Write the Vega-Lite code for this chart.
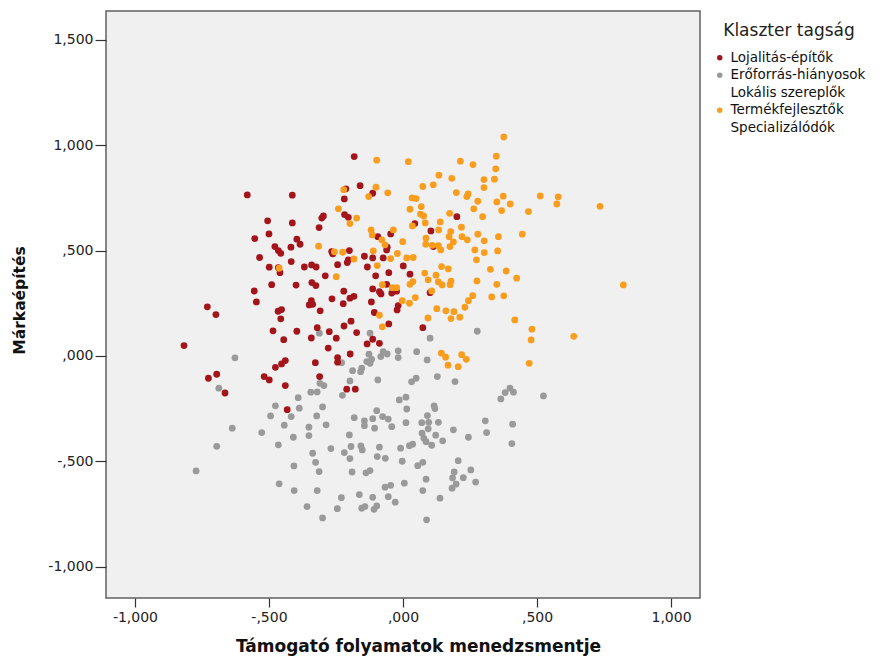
{
  "$schema": "https://vega.github.io/schema/vega-lite/v6.json",
  "width": 594,
  "height": 587,
  "autosize": {"type": "none"},
  "padding": {"left": 106, "top": 11, "right": 183, "bottom": 62},
  "background": "#ffffff",
  "config": {
    "font": "DejaVu Sans",
    "view": {"fill": "#f0f0f0", "stroke": "#606060", "strokeWidth": 1.5}
  },
  "data": {
    "values": [
      {"x": -0.312, "y": 0.108, "k": "Erőforrás-hiányosok"},
      {"x": -0.123, "y": 0.108, "k": "Erőforrás-hiányosok"},
      {"x": 0.101, "y": 0.084, "k": "Erőforrás-hiányosok"},
      {"x": 0.277, "y": 0.117, "k": "Erőforrás-hiányosok"},
      {"x": -0.627, "y": -0.009, "k": "Erőforrás-hiányosok"},
      {"x": -0.687, "y": -0.153, "k": "Erőforrás-hiányosok"},
      {"x": -0.127, "y": 0.008, "k": "Erőforrás-hiányosok"},
      {"x": -0.117, "y": -0.016, "k": "Erőforrás-hiányosok"},
      {"x": -0.123, "y": -0.035, "k": "Erőforrás-hiányosok"},
      {"x": -0.135, "y": -0.027, "k": "Erőforrás-hiányosok"},
      {"x": -0.154, "y": -0.058, "k": "Erőforrás-hiányosok"},
      {"x": -0.158, "y": -0.075, "k": "Erőforrás-hiányosok"},
      {"x": -0.229, "y": -0.032, "k": "Erőforrás-hiányosok"},
      {"x": -0.188, "y": -0.070, "k": "Erőforrás-hiányosok"},
      {"x": -0.074, "y": 0.020, "k": "Erőforrás-hiányosok"},
      {"x": -0.059, "y": 0.009, "k": "Erőforrás-hiányosok"},
      {"x": -0.083, "y": -0.003, "k": "Erőforrás-hiányosok"},
      {"x": -0.018, "y": 0.024, "k": "Erőforrás-hiányosok"},
      {"x": -0.018, "y": -0.008, "k": "Erőforrás-hiányosok"},
      {"x": 0.051, "y": 0.020, "k": "Erőforrás-hiányosok"},
      {"x": 0.090, "y": -0.019, "k": "Erőforrás-hiányosok"},
      {"x": -0.198, "y": -0.119, "k": "Erőforrás-hiányosok"},
      {"x": -0.094, "y": -0.114, "k": "Erőforrás-hiányosok"},
      {"x": -0.310, "y": -0.130, "k": "Erőforrás-hiányosok"},
      {"x": -0.295, "y": -0.141, "k": "Erőforrás-hiányosok"},
      {"x": -0.344, "y": -0.172, "k": "Erőforrás-hiányosok"},
      {"x": -0.320, "y": -0.171, "k": "Erőforrás-hiányosok"},
      {"x": -0.226, "y": -0.187, "k": "Erőforrás-hiányosok"},
      {"x": 0.032, "y": -0.123, "k": "Erőforrás-hiányosok"},
      {"x": 0.049, "y": -0.106, "k": "Erőforrás-hiányosok"},
      {"x": 0.128, "y": -0.098, "k": "Erőforrás-hiányosok"},
      {"x": 0.194, "y": -0.122, "k": "Erőforrás-hiányosok"},
      {"x": 0.365, "y": -0.204, "k": "Erőforrás-hiányosok"},
      {"x": 0.381, "y": -0.174, "k": "Erőforrás-hiányosok"},
      {"x": 0.399, "y": -0.153, "k": "Erőforrás-hiányosok"},
      {"x": 0.412, "y": -0.172, "k": "Erőforrás-hiányosok"},
      {"x": 0.524, "y": -0.190, "k": "Erőforrás-hiányosok"},
      {"x": -0.391, "y": -0.198, "k": "Erőforrás-hiányosok"},
      {"x": -0.476, "y": -0.237, "k": "Erőforrás-hiányosok"},
      {"x": -0.387, "y": -0.248, "k": "Erőforrás-hiányosok"},
      {"x": -0.300, "y": -0.242, "k": "Erőforrás-hiányosok"},
      {"x": -0.494, "y": -0.285, "k": "Erőforrás-hiányosok"},
      {"x": -0.417, "y": -0.288, "k": "Erőforrás-hiányosok"},
      {"x": -0.322, "y": -0.285, "k": "Erőforrás-hiányosok"},
      {"x": -0.287, "y": -0.327, "k": "Erőforrás-hiányosok"},
      {"x": -0.443, "y": -0.329, "k": "Erőforrás-hiányosok"},
      {"x": -0.637, "y": -0.343, "k": "Erőforrás-hiányosok"},
      {"x": -0.527, "y": -0.364, "k": "Erőforrás-hiányosok"},
      {"x": -0.695, "y": -0.429, "k": "Erőforrás-hiányosok"},
      {"x": -0.772, "y": -0.546, "k": "Erőforrás-hiányosok"},
      {"x": -0.465, "y": -0.422, "k": "Erőforrás-hiányosok"},
      {"x": -0.409, "y": -0.386, "k": "Erőforrás-hiányosok"},
      {"x": -0.351, "y": -0.338, "k": "Erőforrás-hiányosok"},
      {"x": -0.351, "y": -0.378, "k": "Erőforrás-hiányosok"},
      {"x": -0.014, "y": -0.209, "k": "Erőforrás-hiányosok"},
      {"x": 0.011, "y": -0.196, "k": "Erőforrás-hiányosok"},
      {"x": 0.014, "y": -0.252, "k": "Erőforrás-hiányosok"},
      {"x": -0.098, "y": -0.260, "k": "Erőforrás-hiányosok"},
      {"x": -0.076, "y": -0.288, "k": "Erőforrás-hiányosok"},
      {"x": -0.055, "y": -0.300, "k": "Erőforrás-hiányosok"},
      {"x": -0.182, "y": -0.293, "k": "Erőforrás-hiányosok"},
      {"x": -0.144, "y": -0.308, "k": "Erőforrás-hiányosok"},
      {"x": -0.144, "y": -0.331, "k": "Erőforrás-hiányosok"},
      {"x": -0.113, "y": -0.298, "k": "Erőforrás-hiányosok"},
      {"x": -0.106, "y": -0.343, "k": "Erőforrás-hiányosok"},
      {"x": -0.042, "y": -0.336, "k": "Erőforrás-hiányosok"},
      {"x": 0.011, "y": -0.317, "k": "Erőforrás-hiányosok"},
      {"x": 0.070, "y": -0.317, "k": "Erőforrás-hiányosok"},
      {"x": 0.096, "y": -0.315, "k": "Erőforrás-hiányosok"},
      {"x": 0.132, "y": -0.315, "k": "Erőforrás-hiányosok"},
      {"x": 0.091, "y": -0.283, "k": "Erőforrás-hiányosok"},
      {"x": 0.116, "y": -0.237, "k": "Erőforrás-hiányosok"},
      {"x": 0.119, "y": -0.250, "k": "Erőforrás-hiányosok"},
      {"x": 0.094, "y": -0.346, "k": "Erőforrás-hiányosok"},
      {"x": 0.071, "y": -0.367, "k": "Erőforrás-hiányosok"},
      {"x": 0.078, "y": -0.391, "k": "Erőforrás-hiányosok"},
      {"x": 0.086, "y": -0.407, "k": "Erőforrás-hiányosok"},
      {"x": 0.122, "y": -0.376, "k": "Erőforrás-hiányosok"},
      {"x": 0.107, "y": -0.424, "k": "Erőforrás-hiányosok"},
      {"x": 0.148, "y": -0.403, "k": "Erőforrás-hiányosok"},
      {"x": 0.188, "y": -0.351, "k": "Erőforrás-hiányosok"},
      {"x": 0.244, "y": -0.386, "k": "Erőforrás-hiányosok"},
      {"x": 0.307, "y": -0.308, "k": "Erőforrás-hiányosok"},
      {"x": 0.312, "y": -0.364, "k": "Erőforrás-hiányosok"},
      {"x": 0.409, "y": -0.324, "k": "Erőforrás-hiányosok"},
      {"x": 0.406, "y": -0.416, "k": "Erőforrás-hiányosok"},
      {"x": -0.200, "y": -0.375, "k": "Erőforrás-hiányosok"},
      {"x": -0.269, "y": -0.440, "k": "Erőforrás-hiányosok"},
      {"x": -0.219, "y": -0.459, "k": "Erőforrás-hiányosok"},
      {"x": -0.198, "y": -0.487, "k": "Erőforrás-hiányosok"},
      {"x": -0.194, "y": -0.430, "k": "Erőforrás-hiányosok"},
      {"x": -0.157, "y": -0.427, "k": "Erőforrás-hiányosok"},
      {"x": -0.152, "y": -0.446, "k": "Erőforrás-hiányosok"},
      {"x": -0.088, "y": -0.433, "k": "Erőforrás-hiányosok"},
      {"x": -0.337, "y": -0.462, "k": "Erőforrás-hiányosok"},
      {"x": -0.326, "y": -0.505, "k": "Erőforrás-hiányosok"},
      {"x": -0.313, "y": -0.549, "k": "Erőforrás-hiányosok"},
      {"x": -0.407, "y": -0.522, "k": "Erőforrás-hiányosok"},
      {"x": -0.096, "y": -0.478, "k": "Erőforrás-hiányosok"},
      {"x": -0.066, "y": -0.486, "k": "Erőforrás-hiányosok"},
      {"x": -0.003, "y": -0.500, "k": "Erőforrás-hiányosok"},
      {"x": -0.009, "y": -0.438, "k": "Erőforrás-hiányosok"},
      {"x": 0.024, "y": -0.426, "k": "Erőforrás-hiányosok"},
      {"x": 0.036, "y": -0.419, "k": "Erőforrás-hiányosok"},
      {"x": 0.055, "y": -0.521, "k": "Erőforrás-hiányosok"},
      {"x": 0.074, "y": -0.505, "k": "Erőforrás-hiányosok"},
      {"x": -0.190, "y": -0.551, "k": "Erőforrás-hiányosok"},
      {"x": -0.138, "y": -0.555, "k": "Erőforrás-hiányosok"},
      {"x": -0.123, "y": -0.544, "k": "Erőforrás-hiányosok"},
      {"x": 0.206, "y": -0.497, "k": "Erőforrás-hiányosok"},
      {"x": 0.191, "y": -0.551, "k": "Erőforrás-hiányosok"},
      {"x": 0.185, "y": -0.579, "k": "Erőforrás-hiányosok"},
      {"x": 0.225, "y": -0.578, "k": "Erőforrás-hiányosok"},
      {"x": 0.253, "y": -0.541, "k": "Erőforrás-hiányosok"},
      {"x": 0.271, "y": -0.599, "k": "Erőforrás-hiányosok"},
      {"x": 0.198, "y": -0.609, "k": "Erőforrás-hiányosok"},
      {"x": 0.183, "y": -0.628, "k": "Erőforrás-hiányosok"},
      {"x": 0.086, "y": -0.585, "k": "Erőforrás-hiányosok"},
      {"x": 0.005, "y": -0.604, "k": "Erőforrás-hiányosok"},
      {"x": -0.067, "y": -0.623, "k": "Erőforrás-hiányosok"},
      {"x": -0.046, "y": -0.614, "k": "Erőforrás-hiányosok"},
      {"x": 0.074, "y": -0.639, "k": "Erőforrás-hiányosok"},
      {"x": 0.138, "y": -0.675, "k": "Erőforrás-hiányosok"},
      {"x": -0.462, "y": -0.607, "k": "Erőforrás-hiányosok"},
      {"x": -0.406, "y": -0.639, "k": "Erőforrás-hiányosok"},
      {"x": -0.320, "y": -0.639, "k": "Erőforrás-hiányosok"},
      {"x": -0.230, "y": -0.673, "k": "Erőforrás-hiányosok"},
      {"x": -0.163, "y": -0.658, "k": "Erőforrás-hiányosok"},
      {"x": -0.113, "y": -0.671, "k": "Erőforrás-hiányosok"},
      {"x": -0.055, "y": -0.668, "k": "Erőforrás-hiányosok"},
      {"x": -0.029, "y": -0.694, "k": "Erőforrás-hiányosok"},
      {"x": -0.358, "y": -0.715, "k": "Erőforrás-hiányosok"},
      {"x": -0.245, "y": -0.725, "k": "Erőforrás-hiányosok"},
      {"x": -0.300, "y": -0.769, "k": "Erőforrás-hiányosok"},
      {"x": -0.154, "y": -0.723, "k": "Erőforrás-hiányosok"},
      {"x": -0.142, "y": -0.715, "k": "Erőforrás-hiányosok"},
      {"x": -0.108, "y": -0.728, "k": "Erőforrás-hiányosok"},
      {"x": -0.098, "y": -0.712, "k": "Erőforrás-hiányosok"},
      {"x": 0.088, "y": -0.778, "k": "Erőforrás-hiányosok"},
      {"x": -0.182, "y": 0.946, "k": "Lojalitás-építők"},
      {"x": -0.581, "y": 0.764, "k": "Lojalitás-építők"},
      {"x": -0.413, "y": 0.763, "k": "Lojalitás-építők"},
      {"x": -0.160, "y": 0.808, "k": "Lojalitás-építők"},
      {"x": -0.113, "y": 0.772, "k": "Lojalitás-építők"},
      {"x": -0.219, "y": 0.745, "k": "Lojalitás-építők"},
      {"x": -0.213, "y": 0.793, "k": "Lojalitás-építők"},
      {"x": -0.297, "y": 0.664, "k": "Lojalitás-építők"},
      {"x": -0.303, "y": 0.654, "k": "Lojalitás-építők"},
      {"x": -0.218, "y": 0.671, "k": "Lojalitás-építők"},
      {"x": -0.204, "y": 0.658, "k": "Lojalitás-építők"},
      {"x": -0.313, "y": 0.609, "k": "Lojalitás-építők"},
      {"x": -0.505, "y": 0.641, "k": "Lojalitás-építők"},
      {"x": -0.413, "y": 0.631, "k": "Lojalitás-építők"},
      {"x": -0.500, "y": 0.579, "k": "Lojalitás-építők"},
      {"x": -0.553, "y": 0.557, "k": "Lojalitás-építők"},
      {"x": -0.396, "y": 0.554, "k": "Lojalitás-építők"},
      {"x": -0.384, "y": 0.530, "k": "Lojalitás-építők"},
      {"x": -0.478, "y": 0.519, "k": "Lojalitás-építők"},
      {"x": -0.465, "y": 0.500, "k": "Lojalitás-építők"},
      {"x": -0.456, "y": 0.487, "k": "Lojalitás-építők"},
      {"x": -0.418, "y": 0.516, "k": "Lojalitás-építők"},
      {"x": -0.535, "y": 0.467, "k": "Lojalitás-építők"},
      {"x": -0.417, "y": 0.448, "k": "Lojalitás-építők"},
      {"x": -0.499, "y": 0.421, "k": "Lojalitás-építők"},
      {"x": -0.465, "y": 0.419, "k": "Lojalitás-építők"},
      {"x": -0.459, "y": 0.395, "k": "Lojalitás-építők"},
      {"x": -0.368, "y": 0.422, "k": "Lojalitás-építők"},
      {"x": -0.341, "y": 0.432, "k": "Lojalitás-építők"},
      {"x": -0.324, "y": 0.422, "k": "Lojalitás-építők"},
      {"x": -0.262, "y": 0.484, "k": "Lojalitás-építők"},
      {"x": -0.266, "y": 0.495, "k": "Lojalitás-építők"},
      {"x": -0.200, "y": 0.500, "k": "Lojalitás-építők"},
      {"x": -0.244, "y": 0.433, "k": "Lojalitás-építők"},
      {"x": -0.208, "y": 0.443, "k": "Lojalitás-építők"},
      {"x": -0.204, "y": 0.456, "k": "Lojalitás-építők"},
      {"x": -0.144, "y": 0.473, "k": "Lojalitás-építők"},
      {"x": -0.133, "y": 0.422, "k": "Lojalitás-építők"},
      {"x": -0.113, "y": 0.465, "k": "Lojalitás-építők"},
      {"x": -0.074, "y": 0.465, "k": "Lojalitás-építők"},
      {"x": -0.094, "y": 0.566, "k": "Lojalitás-építők"},
      {"x": -0.059, "y": 0.516, "k": "Lojalitás-építők"},
      {"x": -0.061, "y": 0.503, "k": "Lojalitás-építők"},
      {"x": -0.046, "y": 0.579, "k": "Lojalitás-építők"},
      {"x": 0.001, "y": 0.427, "k": "Lojalitás-építők"},
      {"x": -0.053, "y": 0.395, "k": "Lojalitás-építők"},
      {"x": -0.102, "y": 0.380, "k": "Lojalitás-építők"},
      {"x": -0.290, "y": 0.380, "k": "Lojalitás-építők"},
      {"x": -0.490, "y": 0.338, "k": "Lojalitás-építők"},
      {"x": -0.399, "y": 0.336, "k": "Lojalitás-építők"},
      {"x": -0.555, "y": 0.308, "k": "Lojalitás-építők"},
      {"x": -0.340, "y": 0.348, "k": "Lojalitás-építők"},
      {"x": -0.325, "y": 0.334, "k": "Lojalitás-építők"},
      {"x": -0.221, "y": 0.307, "k": "Lojalitás-építők"},
      {"x": -0.113, "y": 0.318, "k": "Lojalitás-építők"},
      {"x": -0.088, "y": 0.305, "k": "Lojalitás-építők"},
      {"x": -0.082, "y": 0.294, "k": "Lojalitás-építők"},
      {"x": -0.061, "y": 0.340, "k": "Lojalitás-építők"},
      {"x": -0.042, "y": 0.298, "k": "Lojalitás-építők"},
      {"x": -0.024, "y": 0.307, "k": "Lojalitás-építők"},
      {"x": -0.547, "y": 0.256, "k": "Lojalitás-építők"},
      {"x": -0.342, "y": 0.262, "k": "Lojalitás-építők"},
      {"x": -0.337, "y": 0.245, "k": "Lojalitás-építők"},
      {"x": -0.350, "y": 0.242, "k": "Lojalitás-építők"},
      {"x": -0.265, "y": 0.271, "k": "Lojalitás-építők"},
      {"x": -0.223, "y": 0.248, "k": "Lojalitás-építők"},
      {"x": -0.198, "y": 0.274, "k": "Lojalitás-építők"},
      {"x": -0.183, "y": 0.283, "k": "Lojalitás-építők"},
      {"x": -0.118, "y": 0.256, "k": "Lojalitás-építők"},
      {"x": -0.018, "y": 0.239, "k": "Lojalitás-építők"},
      {"x": -0.022, "y": 0.218, "k": "Lojalitás-építők"},
      {"x": -0.309, "y": 0.214, "k": "Lojalitás-építők"},
      {"x": -0.466, "y": 0.212, "k": "Lojalitás-építők"},
      {"x": -0.453, "y": 0.220, "k": "Lojalitás-építők"},
      {"x": -0.456, "y": 0.176, "k": "Lojalitás-építők"},
      {"x": -0.730, "y": 0.233, "k": "Lojalitás-építők"},
      {"x": -0.698, "y": 0.196, "k": "Lojalitás-építők"},
      {"x": -0.107, "y": 0.206, "k": "Lojalitás-építők"},
      {"x": -0.194, "y": 0.165, "k": "Lojalitás-építők"},
      {"x": -0.220, "y": 0.142, "k": "Lojalitás-építők"},
      {"x": -0.053, "y": 0.152, "k": "Lojalitás-építők"},
      {"x": -0.485, "y": 0.119, "k": "Lojalitás-építők"},
      {"x": -0.396, "y": 0.117, "k": "Lojalitás-építők"},
      {"x": -0.320, "y": 0.134, "k": "Lojalitás-építők"},
      {"x": -0.275, "y": 0.115, "k": "Lojalitás-építők"},
      {"x": -0.173, "y": 0.111, "k": "Lojalitás-építők"},
      {"x": -0.445, "y": 0.077, "k": "Lojalitás-építők"},
      {"x": -0.342, "y": 0.085, "k": "Lojalitás-építők"},
      {"x": -0.249, "y": 0.084, "k": "Lojalitás-építők"},
      {"x": -0.134, "y": 0.057, "k": "Lojalitás-építők"},
      {"x": -0.113, "y": 0.079, "k": "Lojalitás-építők"},
      {"x": -0.088, "y": 0.060, "k": "Lojalitás-építők"},
      {"x": -0.817, "y": 0.049, "k": "Lojalitás-építők"},
      {"x": -0.279, "y": 0.037, "k": "Lojalitás-építők"},
      {"x": -0.197, "y": 0.009, "k": "Lojalitás-építők"},
      {"x": -0.439, "y": -0.022, "k": "Lojalitás-építők"},
      {"x": -0.453, "y": -0.038, "k": "Lojalitás-építők"},
      {"x": -0.476, "y": -0.054, "k": "Lojalitás-építők"},
      {"x": -0.327, "y": -0.032, "k": "Lojalitás-építők"},
      {"x": -0.244, "y": -0.008, "k": "Lojalitás-építők"},
      {"x": -0.244, "y": -0.030, "k": "Lojalitás-építők"},
      {"x": 0.026, "y": 0.388, "k": "Lojalitás-építők"},
      {"x": 0.201, "y": 0.661, "k": "Lojalitás-építők"},
      {"x": 0.104, "y": 0.593, "k": "Lojalitás-építők"},
      {"x": 0.101, "y": 0.300, "k": "Lojalitás-építők"},
      {"x": 0.074, "y": 0.134, "k": "Lojalitás-építők"},
      {"x": 0.113, "y": 0.519, "k": "Lojalitás-építők"},
      {"x": 0.044, "y": 0.628, "k": "Lojalitás-építők"},
      {"x": -0.726, "y": -0.106, "k": "Lojalitás-építők"},
      {"x": -0.695, "y": -0.087, "k": "Lojalitás-építők"},
      {"x": -0.664, "y": -0.176, "k": "Lojalitás-építők"},
      {"x": -0.518, "y": -0.098, "k": "Lojalitás-építők"},
      {"x": -0.499, "y": -0.114, "k": "Lojalitás-építők"},
      {"x": -0.439, "y": -0.141, "k": "Lojalitás-építők"},
      {"x": -0.311, "y": -0.098, "k": "Lojalitás-építők"},
      {"x": -0.210, "y": -0.158, "k": "Lojalitás-építők"},
      {"x": -0.178, "y": -0.158, "k": "Lojalitás-építők"},
      {"x": -0.432, "y": -0.255, "k": "Lojalitás-építők"},
      {"x": -0.098, "y": 0.929, "k": "Termékfejlesztők"},
      {"x": 0.020, "y": 0.922, "k": "Termékfejlesztők"},
      {"x": -0.221, "y": 0.789, "k": "Termékfejlesztők"},
      {"x": -0.101, "y": 0.801, "k": "Termékfejlesztők"},
      {"x": -0.128, "y": 0.756, "k": "Termékfejlesztők"},
      {"x": -0.057, "y": 0.774, "k": "Termékfejlesztők"},
      {"x": -0.241, "y": 0.698, "k": "Termékfejlesztők"},
      {"x": -0.173, "y": 0.654, "k": "Termékfejlesztők"},
      {"x": -0.198, "y": 0.628, "k": "Termékfejlesztők"},
      {"x": -0.119, "y": 0.598, "k": "Termékfejlesztők"},
      {"x": -0.115, "y": 0.574, "k": "Termékfejlesztők"},
      {"x": -0.036, "y": 0.598, "k": "Termékfejlesztők"},
      {"x": -0.079, "y": 0.551, "k": "Termékfejlesztők"},
      {"x": -0.067, "y": 0.527, "k": "Termékfejlesztők"},
      {"x": -0.001, "y": 0.542, "k": "Termékfejlesztők"},
      {"x": -0.315, "y": 0.521, "k": "Termékfejlesztők"},
      {"x": -0.256, "y": 0.494, "k": "Termékfejlesztők"},
      {"x": -0.225, "y": 0.492, "k": "Termékfejlesztők"},
      {"x": -0.183, "y": 0.460, "k": "Termékfejlesztők"},
      {"x": -0.021, "y": 0.486, "k": "Termékfejlesztők"},
      {"x": -0.046, "y": 0.462, "k": "Termékfejlesztők"},
      {"x": 0.014, "y": 0.465, "k": "Termékfejlesztők"},
      {"x": -0.096, "y": 0.429, "k": "Termékfejlesztők"},
      {"x": -0.462, "y": 0.416, "k": "Termékfejlesztők"},
      {"x": -0.249, "y": 0.376, "k": "Termékfejlesztők"},
      {"x": -0.077, "y": 0.338, "k": "Termékfejlesztők"},
      {"x": -0.040, "y": 0.324, "k": "Termékfejlesztők"},
      {"x": -0.024, "y": 0.324, "k": "Termékfejlesztők"},
      {"x": 0.026, "y": 0.340, "k": "Termékfejlesztők"},
      {"x": -0.003, "y": 0.262, "k": "Termékfejlesztők"},
      {"x": 0.024, "y": 0.250, "k": "Termékfejlesztők"},
      {"x": -0.088, "y": 0.193, "k": "Termékfejlesztők"},
      {"x": -0.077, "y": 0.138, "k": "Termékfejlesztők"},
      {"x": -0.111, "y": 0.498, "k": "Termékfejlesztők"},
      {"x": 0.376, "y": 1.039, "k": "Termékfejlesztők"},
      {"x": 0.348, "y": 0.948, "k": "Termékfejlesztők"},
      {"x": 0.346, "y": 0.888, "k": "Termékfejlesztők"},
      {"x": 0.214, "y": 0.924, "k": "Termékfejlesztők"},
      {"x": 0.261, "y": 0.908, "k": "Termékfejlesztők"},
      {"x": 0.134, "y": 0.858, "k": "Termékfejlesztők"},
      {"x": 0.182, "y": 0.843, "k": "Termékfejlesztők"},
      {"x": 0.302, "y": 0.837, "k": "Termékfejlesztők"},
      {"x": 0.341, "y": 0.839, "k": "Termékfejlesztők"},
      {"x": 0.302, "y": 0.799, "k": "Termékfejlesztők"},
      {"x": 0.074, "y": 0.804, "k": "Termékfejlesztők"},
      {"x": 0.113, "y": 0.812, "k": "Termékfejlesztők"},
      {"x": 0.199, "y": 0.775, "k": "Termékfejlesztők"},
      {"x": 0.238, "y": 0.756, "k": "Termékfejlesztők"},
      {"x": 0.243, "y": 0.769, "k": "Termékfejlesztők"},
      {"x": 0.512, "y": 0.759, "k": "Termékfejlesztők"},
      {"x": 0.579, "y": 0.755, "k": "Termékfejlesztők"},
      {"x": 0.574, "y": 0.721, "k": "Termékfejlesztők"},
      {"x": 0.034, "y": 0.750, "k": "Termékfejlesztők"},
      {"x": 0.049, "y": 0.747, "k": "Termékfejlesztők"},
      {"x": 0.279, "y": 0.734, "k": "Termékfejlesztők"},
      {"x": 0.350, "y": 0.731, "k": "Termékfejlesztők"},
      {"x": 0.374, "y": 0.758, "k": "Termékfejlesztők"},
      {"x": 0.400, "y": 0.721, "k": "Termékfejlesztők"},
      {"x": 0.735, "y": 0.710, "k": "Termékfejlesztők"},
      {"x": 0.068, "y": 0.709, "k": "Termékfejlesztők"},
      {"x": 0.026, "y": 0.696, "k": "Termékfejlesztők"},
      {"x": 0.264, "y": 0.698, "k": "Termékfejlesztők"},
      {"x": 0.368, "y": 0.690, "k": "Termékfejlesztők"},
      {"x": 0.468, "y": 0.685, "k": "Termékfejlesztők"},
      {"x": 0.174, "y": 0.677, "k": "Termékfejlesztők"},
      {"x": 0.065, "y": 0.673, "k": "Termékfejlesztők"},
      {"x": 0.077, "y": 0.664, "k": "Termékfejlesztők"},
      {"x": 0.297, "y": 0.661, "k": "Termékfejlesztők"},
      {"x": 0.083, "y": 0.631, "k": "Termékfejlesztők"},
      {"x": 0.139, "y": 0.636, "k": "Termékfejlesztők"},
      {"x": 0.035, "y": 0.617, "k": "Termékfejlesztők"},
      {"x": 0.133, "y": 0.598, "k": "Termékfejlesztők"},
      {"x": 0.218, "y": 0.611, "k": "Termékfejlesztők"},
      {"x": 0.178, "y": 0.590, "k": "Termékfejlesztők"},
      {"x": 0.172, "y": 0.566, "k": "Termékfejlesztők"},
      {"x": 0.220, "y": 0.566, "k": "Termékfejlesztők"},
      {"x": 0.240, "y": 0.551, "k": "Termékfejlesztők"},
      {"x": 0.279, "y": 0.578, "k": "Termékfejlesztők"},
      {"x": 0.356, "y": 0.566, "k": "Termékfejlesztők"},
      {"x": 0.445, "y": 0.578, "k": "Termékfejlesztők"},
      {"x": 0.086, "y": 0.559, "k": "Termékfejlesztők"},
      {"x": 0.085, "y": 0.530, "k": "Termékfejlesztők"},
      {"x": 0.109, "y": 0.525, "k": "Termékfejlesztők"},
      {"x": 0.132, "y": 0.523, "k": "Termékfejlesztők"},
      {"x": 0.141, "y": 0.503, "k": "Termékfejlesztők"},
      {"x": 0.175, "y": 0.519, "k": "Termékfejlesztők"},
      {"x": 0.188, "y": 0.541, "k": "Termékfejlesztők"},
      {"x": 0.303, "y": 0.546, "k": "Termékfejlesztők"},
      {"x": 0.268, "y": 0.503, "k": "Termékfejlesztők"},
      {"x": 0.303, "y": 0.490, "k": "Termékfejlesztők"},
      {"x": 0.353, "y": 0.498, "k": "Termékfejlesztők"},
      {"x": 0.038, "y": 0.467, "k": "Termékfejlesztők"},
      {"x": 0.274, "y": 0.456, "k": "Termékfejlesztők"},
      {"x": 0.144, "y": 0.424, "k": "Termékfejlesztők"},
      {"x": 0.169, "y": 0.413, "k": "Termékfejlesztők"},
      {"x": 0.326, "y": 0.411, "k": "Termékfejlesztők"},
      {"x": 0.385, "y": 0.403, "k": "Termékfejlesztők"},
      {"x": 0.424, "y": 0.369, "k": "Termékfejlesztők"},
      {"x": 0.081, "y": 0.393, "k": "Termékfejlesztők"},
      {"x": 0.123, "y": 0.383, "k": "Termékfejlesztők"},
      {"x": 0.094, "y": 0.361, "k": "Termékfejlesztők"},
      {"x": 0.037, "y": 0.353, "k": "Termékfejlesztők"},
      {"x": 0.132, "y": 0.351, "k": "Termékfejlesztők"},
      {"x": 0.146, "y": 0.337, "k": "Termékfejlesztők"},
      {"x": 0.179, "y": 0.355, "k": "Termékfejlesztők"},
      {"x": 0.176, "y": 0.338, "k": "Termékfejlesztők"},
      {"x": 0.276, "y": 0.356, "k": "Termékfejlesztők"},
      {"x": 0.350, "y": 0.340, "k": "Termékfejlesztők"},
      {"x": 0.822, "y": 0.337, "k": "Termékfejlesztők"},
      {"x": 0.107, "y": 0.308, "k": "Termékfejlesztők"},
      {"x": 0.260, "y": 0.286, "k": "Termékfejlesztők"},
      {"x": 0.244, "y": 0.262, "k": "Termékfejlesztők"},
      {"x": 0.231, "y": 0.231, "k": "Termékfejlesztők"},
      {"x": 0.331, "y": 0.280, "k": "Termékfejlesztők"},
      {"x": 0.376, "y": 0.285, "k": "Termékfejlesztők"},
      {"x": 0.046, "y": 0.277, "k": "Termékfejlesztők"},
      {"x": 0.126, "y": 0.224, "k": "Termékfejlesztők"},
      {"x": 0.160, "y": 0.214, "k": "Termékfejlesztők"},
      {"x": 0.190, "y": 0.210, "k": "Termékfejlesztők"},
      {"x": 0.179, "y": 0.177, "k": "Termékfejlesztők"},
      {"x": 0.212, "y": 0.184, "k": "Termékfejlesztők"},
      {"x": 0.093, "y": 0.180, "k": "Termékfejlesztők"},
      {"x": 0.417, "y": 0.171, "k": "Termékfejlesztők"},
      {"x": 0.481, "y": 0.127, "k": "Termékfejlesztők"},
      {"x": 0.478, "y": 0.076, "k": "Termékfejlesztők"},
      {"x": 0.637, "y": 0.093, "k": "Termékfejlesztők"},
      {"x": 0.143, "y": 0.013, "k": "Termékfejlesztők"},
      {"x": 0.159, "y": -0.006, "k": "Termékfejlesztők"},
      {"x": 0.168, "y": -0.044, "k": "Termékfejlesztők"},
      {"x": 0.206, "y": -0.051, "k": "Termékfejlesztők"},
      {"x": 0.219, "y": 0.006, "k": "Termékfejlesztők"},
      {"x": 0.236, "y": -0.016, "k": "Termékfejlesztők"},
      {"x": 0.471, "y": -0.035, "k": "Termékfejlesztők"}
    ]
  },
  "mark": {"type": "point", "filled": true, "opacity": 1, "size": 46, "shape": "circle"},
  "encoding": {
    "x": {
      "field": "x",
      "type": "quantitative",
      "scale": {"domain": [-1.108, 1.108], "nice": false, "zero": false},
      "axis": {
        "title": "Támogató folyamatok menedzsmentje",
        "values": [-1, -0.5, 0, 0.5, 1],
        "labelExpr": "replace(replace(replace(format(datum.value, '.3f'), '−', '-'), '0.', '.'), '.', ',')",
        "grid": false,
        "domain": false,
        "ticks": true,
        "tickSize": 9,
        "tickColor": "#333333",
        "tickWidth": 1.2,
        "labelFontSize": 14,
        "labelColor": "#222222",
        "labelPadding": 3,
        "titleFontSize": 17,
        "titleFontWeight": "bold",
        "titleColor": "#111111",
        "titlePadding": 14,
        "titleX": 312
      }
    },
    "y": {
      "field": "y",
      "type": "quantitative",
      "scale": {"domain": [-1.149, 1.637], "nice": false, "zero": false},
      "axis": {
        "title": "Márkaépítés",
        "values": [-1, -0.5, 0, 0.5, 1, 1.5],
        "labelExpr": "replace(replace(replace(format(datum.value, '.3f'), '−', '-'), '0.', '.'), '.', ',')",
        "grid": false,
        "domain": false,
        "ticks": true,
        "tickSize": 11,
        "tickColor": "#333333",
        "tickWidth": 1.2,
        "labelFontSize": 14,
        "labelColor": "#222222",
        "labelPadding": 2,
        "titleFontSize": 15.5,
        "titleFontWeight": "bold",
        "titleColor": "#111111",
        "titlePadding": 20,
        "titleY": 289
      }
    },
    "color": {
      "field": "k",
      "type": "nominal",
      "scale": {
        "domain": ["Lojalitás-építők", "Erőforrás-hiányosok", "Lokális szereplők", "Termékfejlesztők", "Specializálódók"],
        "range": ["#a3151b", "#9a9a9a", "transparent", "#f99d1e", "transparent"]
      },
      "legend": {
        "title": "Klaszter tagság",
        "orient": "none",
        "legendX": 607,
        "legendY": 12,
        "padding": 0,
        "titleFontSize": 17,
        "titleFontWeight": "normal",
        "titleColor": "#222222",
        "titleAnchor": "middle",
        "titlePadding": 11,
        "labelFontSize": 13.5,
        "labelColor": "#111111",
        "labelOffset": 4,
        "symbolSize": 30,
        "symbolType": "circle",
        "rowPadding": 2.5
      }
    },
    "order": {"field": "k", "type": "nominal"}
  }
}
